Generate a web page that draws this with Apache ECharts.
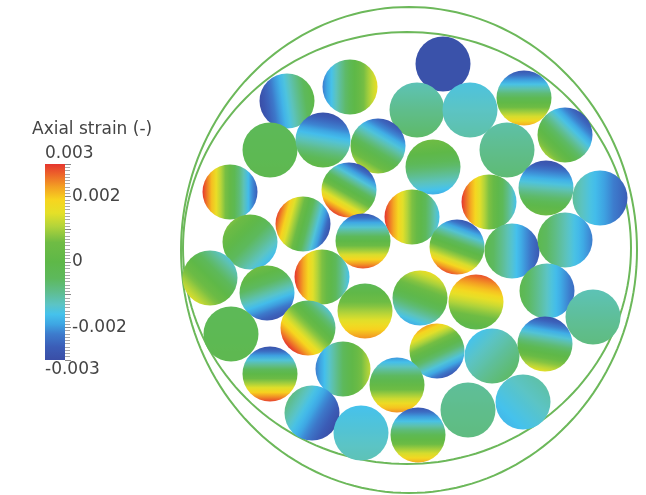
<!DOCTYPE html>
<html>
<head>
<meta charset="utf-8">
<script src="https://cdn.jsdelivr.net/npm/echarts@6/dist/echarts.min.js"></script>
<style>
html, body { margin: 0; padding: 0; background: #fff; }
#chart { width: 646px; height: 495px; }
</style>
</head>
<body>
<div id="chart"></div>
<script>
// wires in the cross section, figure pixel units
var wireX = [443, 287, 350, 417, 470, 524, 565, 270, 323, 378, 433, 507, 230, 349, 489, 546, 600,
  250, 303, 412, 363, 457, 512, 565, 210, 267, 322, 420, 476, 547, 365, 593, 231, 308, 437, 492,
  545, 270, 343, 397, 312, 361, 418, 468, 523];
var wireY = [64, 101, 87, 110, 110, 98, 135, 150, 140, 146, 167, 150, 192, 190, 202, 188, 198,
  242, 224, 217, 241, 247, 251, 240, 278, 293, 277, 298, 302, 291, 311, 317, 334, 328, 351, 356,
  344, 374, 369, 385, 413, 433, 435, 410, 402];
// mean axial strain of each wire
var wireStrain = [-0.0029, -0.0015, -0.0003, -0.0009, -0.0013, -0.0003, -0.0009, -0.0003, -0.0014,
  -0.0008, -0.0006, -0.0009, 0.0002, 0.0, 0.0007, -0.0012, -0.0018, -0.0005, 0.0, 0.0007, 0.0, 0.0,
  -0.0014, -0.0012, 0.0, -0.0011, 0.0007, -0.0001, 0.0013, -0.0013, 0.001, -0.001, -0.0003, 0.0008,
  -0.0002, -0.0011, -0.0007, 0.0, -0.0005, 0.0002, -0.0019, -0.0014, -0.0003, -0.0009, -0.0014];
// half of the strain range across the wire (bending part)
var wireBend = [0, 0.0015, 0.0019, 0.0003, 0.0002, 0.0025, 0.0019, 0.0001, 0.0015, 0.002, 0.0012,
  0.0002, 0.0028, 0.0029, 0.0023, 0.0017, 0.0008, 0.0012, 0.0029, 0.0023, 0.0028, 0.0028, 0.0013,
  0.001, 0.0014, 0.0017, 0.0023, 0.0017, 0.0015, 0.0011, 0.0014, 0.0002, 0.0001, 0.0022, 0.0025,
  0.0005, 0.0022, 0.0029, 0.0017, 0.0022, 0.0011, 0.0002, 0.0025, 0.0001, 0.0003];
// direction of the highest strain, degrees (0 = right, 90 = down)
var wireDir = [0, -8, 0, 90, 90, 90, 135, 90, 100, 120, -95, 90, 180, 120, 180, 95, 180, 225, 195,
  180, 90, 110, 180, 180, 135, 250, 180, -70, -80, 180, 90, 90, 90, 135, -115, 45, 100, 90, 0, 90,
  210, 90, 90, 90, -45];
var wireRadius = 27.5;

// sheath rings
var ringX = [407, 409];
var ringY = [248, 250];
var ringRx = [224, 228];
var ringRy = [216, 243];

// colour scale
var scaleValues = [-0.003, -0.0026, -0.0022, -0.0019, -0.0016, -0.0013, -0.0009, -0.0005, 0.0,
  0.0006, 0.0011, 0.0015, 0.0019, 0.0023, 0.0027, 0.003];
var scaleColors = ['#3a4ea6', '#3b5db7', '#3d7ccd', '#3ea6e3', '#45c2ec', '#5cc4c4', '#5fbd8c',
  '#5db95c', '#5eb848', '#6fbc44', '#b4d43a', '#e5e028', '#f7d51f', '#f3a023', '#ec612a', '#e5352e'];
var tickValues = [-0.002, 0, 0.002];
var tickLabels = ['-0.002', '0', '0.002'];

function hexRgb(h) {
  return [parseInt(h.substr(1, 2), 16), parseInt(h.substr(3, 2), 16), parseInt(h.substr(5, 2), 16)];
}
function colorAt(v) {
  var n = scaleValues.length;
  if (v <= scaleValues[0]) return scaleColors[0];
  if (v >= scaleValues[n - 1]) return scaleColors[n - 1];
  for (var i = 1; i < n; i++) {
    if (v <= scaleValues[i]) {
      var t = (v - scaleValues[i - 1]) / (scaleValues[i] - scaleValues[i - 1]);
      var a = hexRgb(scaleColors[i - 1]), b = hexRgb(scaleColors[i]);
      var c = a.map(function (x, k) { return Math.round(x + (b[k] - x) * t); });
      return 'rgb(' + c.join(',') + ')';
    }
  }
}

var wireData = wireX.map(function (x, i) {
  return [x, wireY[i], wireStrain[i], wireBend[i], wireDir[i]];
});
var ringData = ringX.map(function (x, i) {
  return [x, ringY[i], ringRx[i], ringRy[i]];
});
var vMin = scaleValues[0], vMax = scaleValues[scaleValues.length - 1];

var chart = echarts.init(document.getElementById('chart'));
chart.setOption({
  animation: false,
  grid: [
    { left: 0, right: 0, top: 0, bottom: 0 },
    { left: 45, top: 164, width: 20, height: 196 }
  ],
  xAxis: [
    { gridIndex: 0, type: 'value', min: 0, max: 646, show: false },
    { gridIndex: 1, type: 'value', min: 0, max: 1, show: false }
  ],
  yAxis: [
    { gridIndex: 0, type: 'value', min: 0, max: 495, inverse: true, show: false },
    {
      gridIndex: 1, type: 'value', min: vMin, max: vMax, interval: 0.001, position: 'right',
      axisLine: { show: false, onZero: false },
      axisTick: { show: true, length: 6, lineStyle: { color: '#888', width: 1 } },
      minorTick: { show: true, splitNumber: 10, length: 5, lineStyle: { color: '#aaa', width: 1 } },
      splitLine: { show: false },
      axisLabel: {
        show: true, margin: 7, fontSize: 17, color: '#444', fontFamily: 'DejaVu Sans',
        formatter: function (v) {
          for (var i = 0; i < tickValues.length; i++) {
            if (Math.abs(v - tickValues[i]) < 1e-7) return tickLabels[i];
          }
          return '';
        }
      }
    }
  ],
  graphic: [
    { type: 'text', left: 32, top: 121, style: { text: 'Axial strain (-)', fontSize: 17, fill: '#444', fontFamily: 'DejaVu Sans' } },
    { type: 'text', left: 45, top: 145, style: { text: '0.003', fontSize: 17, fill: '#444', fontFamily: 'DejaVu Sans' } },
    { type: 'text', left: 45, top: 361, style: { text: '-0.003', fontSize: 17, fill: '#444', fontFamily: 'DejaVu Sans' } }
  ],
  series: [
    {
      type: 'custom', xAxisIndex: 0, yAxisIndex: 0, data: ringData, silent: true,
      renderItem: function (params, api) {
        var pts = [];
        for (var k = 0; k < 180; k++) {
          var a = k / 180 * Math.PI * 2;
          pts.push(api.coord([api.value(0) + api.value(2) * Math.cos(a), api.value(1) + api.value(3) * Math.sin(a)]));
        }
        return { type: 'polygon', shape: { points: pts }, style: { fill: null, stroke: '#6cb85a', lineWidth: 2 } };
      }
    },
    {
      type: 'custom', xAxisIndex: 0, yAxisIndex: 0, data: wireData,
      renderItem: function (params, api) {
        var c = api.coord([api.value(0), api.value(1)]);
        var r = Math.abs(api.size([wireRadius, wireRadius])[0]);
        var mean = api.value(2), amp = api.value(3);
        var a = api.value(4) * Math.PI / 180;
        var dx = Math.cos(a) / 2, dy = Math.sin(a) / 2;
        var stops = [];
        for (var k = 0; k <= 12; k++) {
          var t = k / 12;
          stops.push({ offset: t, color: colorAt(mean - amp + 2 * amp * t) });
        }
        return {
          type: 'circle',
          shape: { cx: c[0], cy: c[1], r: r },
          style: { fill: new echarts.graphic.LinearGradient(0.5 - dx, 0.5 - dy, 0.5 + dx, 0.5 + dy, stops) }
        };
      }
    },
    {
      type: 'custom', xAxisIndex: 1, yAxisIndex: 1, data: [[0, vMin, 1, vMax]], silent: true,
      renderItem: function (params, api) {
        var p0 = api.coord([api.value(0), api.value(3)]);
        var p1 = api.coord([api.value(2), api.value(1)]);
        var stops = scaleValues.map(function (v, i) {
          return { offset: (v - vMin) / (vMax - vMin), color: scaleColors[i] };
        });
        return {
          type: 'rect',
          shape: { x: p0[0], y: p0[1], width: p1[0] - p0[0], height: p1[1] - p0[1] },
          style: { fill: new echarts.graphic.LinearGradient(0, 1, 0, 0, stops) }
        };
      }
    }
  ]
});
</script>
</body>
</html>
